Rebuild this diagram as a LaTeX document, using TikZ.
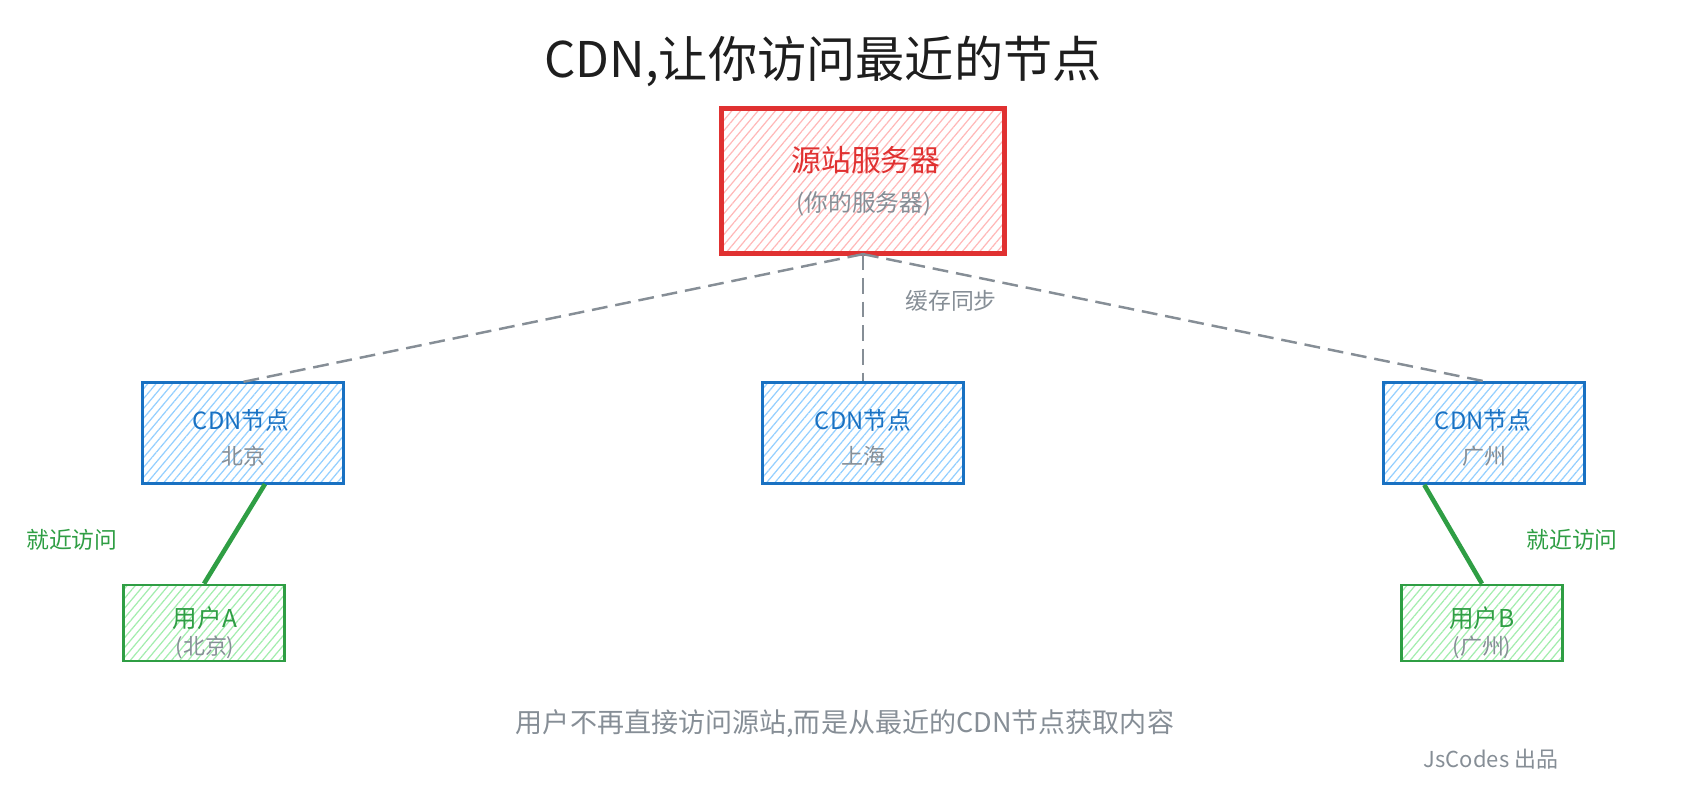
\documentclass[tikz,border=0pt]{standalone}
\usepackage{fontspec}
\setmainfont{Noto Sans CJK SC}
\usepackage{xcolor}
\usepackage{tikz}
\usetikzlibrary{patterns.meta}

\definecolor{inkred}{HTML}{E03131}
\definecolor{inkblue}{HTML}{1971C2}
\definecolor{inkgreen}{HTML}{2F9E44}
\definecolor{inkgray}{HTML}{868E96}
\definecolor{inkblack}{HTML}{1E1E1E}
\definecolor{hatchred}{HTML}{FFB8B8}
\definecolor{hatchblue}{HTML}{94CFFF}
\definecolor{hatchgreen}{HTML}{A3EDAE}

\begin{document}
\begin{tikzpicture}[x=0.02cm, y=-0.02cm,
    box/.style={draw, line width=1.5pt, inner sep=0pt},
    origin/.style={box, draw=inkred, line width=2.4pt, minimum width=5.66cm, minimum height=2.9cm,
        pattern={Lines[angle=50, distance=3.8pt, line width=0.7pt]}, pattern color=hatchred},
    cdn/.style={box, draw=inkblue, minimum width=4.02cm, minimum height=2.02cm,
        pattern={Lines[angle=50, distance=3.6pt, line width=0.7pt]}, pattern color=hatchblue},
    user/.style={box, draw=inkgreen, minimum width=3.22cm, minimum height=1.52cm,
        pattern={Lines[angle=50, distance=3.6pt, line width=0.7pt]}, pattern color=hatchgreen},
    heading/.style={font=\fontsize{28}{33}\selectfont, text=inkblack},
    maintext/.style={font=\fontsize{17}{20}\selectfont},
    subtext/.style={font=\fontsize{12.5}{15}\selectfont, text=inkgray},
    note/.style={font=\fontsize{13}{16}\selectfont},
    sync/.style={draw=inkgray, line width=1.4pt, dash pattern=on 9pt off 4.5pt},
    near/.style={draw=inkgreen, line width=2.6pt}
]
    \useasboundingbox (0,0) rectangle (1708,796);

    \node[heading] (title) at (823,61) {CDN,让你访问最近的节点};

    \node[origin] (src) at (863,181) {};
    \node[maintext, text=inkred] (srcname) at (866,160) {源站服务器};
    \node[subtext, font=\fontsize{13.5}{16}\selectfont] (srcnote) at (864,204) {(你的服务器)};

    \node[cdn] (bj) at (243,433) {};
    \node[note, text=inkblue, font=\fontsize{13.5}{16}\selectfont] (bjname) at (241,420) {CDN节点};
    \node[subtext] (bjcity) at (243,456) {北京};

    \node[cdn] (sh) at (863,433) {};
    \node[note, text=inkblue, font=\fontsize{13.5}{16}\selectfont] (shname) at (863,420) {CDN节点};
    \node[subtext] (shcity) at (863,456) {上海};

    \node[cdn] (gz) at (1484,433) {};
    \node[note, text=inkblue, font=\fontsize{13.5}{16}\selectfont] (gzname) at (1483,420) {CDN节点};
    \node[subtext] (gzcity) at (1484,456) {广州};

    \node[user] (usera) at (204,623) {};
    \node[note, text=inkgreen, font=\fontsize{14}{17}\selectfont] (useraname) at (205,618) {用户A};
    \node[subtext] (useracity) at (205,647) {(北京)};

    \node[user] (userb) at (1482,623) {};
    \node[note, text=inkgreen, font=\fontsize{14}{17}\selectfont] (userbname) at (1482,618) {用户B};
    \node[subtext] (userbcity) at (1482,647) {(广州)};

    \draw[sync] (src.south) -- (bj.north);
    \draw[sync] (src.south) -- (sh.north);
    \draw[sync] (src.south) -- (gz.north);
    \node[subtext, font=\fontsize{13}{16}\selectfont] (synclabel) at (951,301) {缓存同步};

    \draw[near] ([xshift=12.5pt]bj.south) -- (usera.north);
    \draw[near] ([xshift=-34pt]gz.south) -- (userb.north);
    \node[note, text=inkgreen] (nearleft) at (72,540) {就近访问};
    \node[note, text=inkgreen] (nearright) at (1572,540) {就近访问};

    \node[subtext, font=\fontsize{15.4}{18}\selectfont] (footer) at (845,724) {用户不再直接访问源站,而是从最近的CDN节点获取内容};
    \node[subtext] (credit) at (1491,759) {JsCodes 出品};
\end{tikzpicture}
\end{document}
